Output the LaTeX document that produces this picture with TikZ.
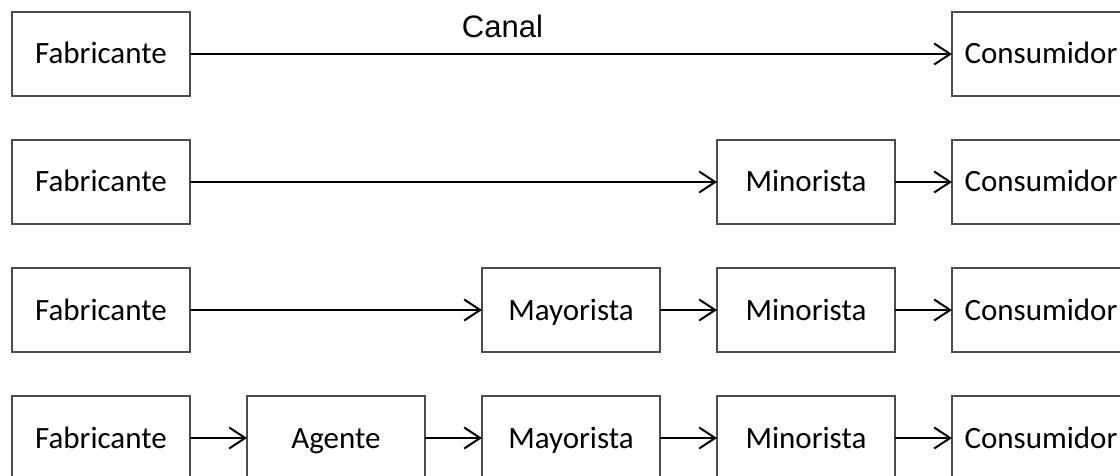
\documentclass[tikz,border=0pt]{standalone}
\usepackage{fontspec}
\setmainfont{Carlito}
\newfontfamily\canalfont{Liberation Sans}
\usepackage{tikz}
\usetikzlibrary{arrows.meta,positioning}

\begin{document}
\begin{tikzpicture}[>={Straight Barb[length=16pt,width=21pt]},x=1pt,y=-1pt,
    node distance=44pt and 57pt,font=\fontsize{31}{37}\selectfont,
    every node/.style={align=center},
    box/.style={draw=black!70,line width=1.5pt,minimum width=178pt,minimum height=84pt,
      inner sep=0pt,outer sep=0pt,text height=27pt,text depth=7pt},
    flow/.style={->,line width=2pt}]
    \useasboundingbox (0,0) rectangle (1120,476);
    \clip (0,0) rectangle (1120,476);
    % row 1
    \node[box,anchor=north west] (fab1) at (12,12) {Fabricante};
    \node[box,right=762pt of fab1] (con1) {Consumidor};
    % row 2
    \node[box,below=of fab1] (fab2) {Fabricante};
    \node[box,right=527pt of fab2] (min2) {Minorista};
    \node[box,right=of min2] (con2) {Consumidor};
    % row 3
    \node[box,below=of fab2] (fab3) {Fabricante};
    \node[box,right=292pt of fab3] (may3) {Mayorista};
    \node[box,right=of may3] (min3) {Minorista};
    \node[box,right=of min3] (con3) {Consumidor};
    % row 4
    \node[box,below=of fab3] (fab4) {Fabricante};
    \node[box,right=of fab4] (age4) {Agente};
    \node[box,right=of age4] (may4) {Mayorista};
    \node[box,right=of may4] (min4) {Minorista};
    \node[box,right=of min4] (con4) {Consumidor};
    % flows
    \draw[flow] (fab1) -- node[pos=.41,above=15pt,inner sep=0pt,font=\canalfont\fontsize{31}{37}\selectfont] (canal) {Canal} (con1);
    \draw[flow] (fab2) -- (min2); \draw[flow] (min2) -- (con2);
    \draw[flow] (fab3) -- (may3); \draw[flow] (may3) -- (min3); \draw[flow] (min3) -- (con3);
    \draw[flow] (fab4) -- (age4); \draw[flow] (age4) -- (may4);
    \draw[flow] (may4) -- (min4); \draw[flow] (min4) -- (con4);
\end{tikzpicture}
\end{document}
